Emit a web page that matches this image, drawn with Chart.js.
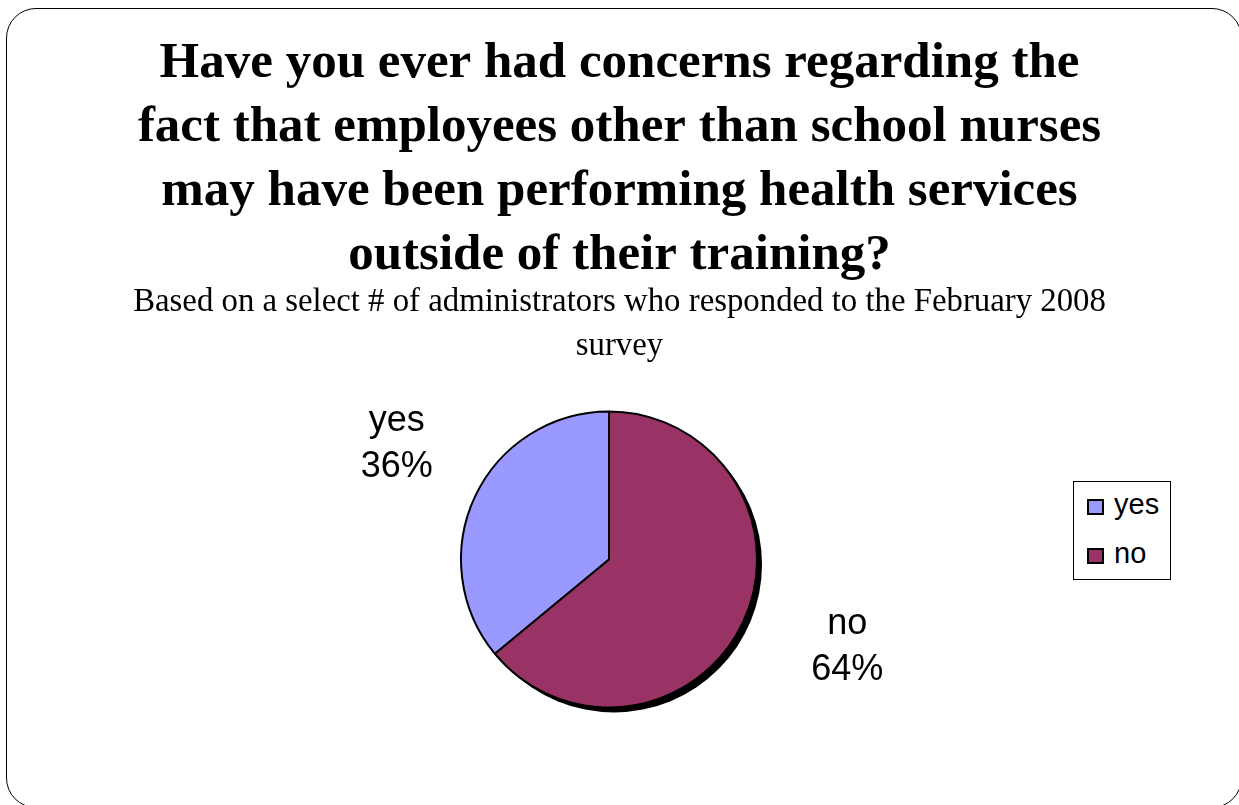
<!DOCTYPE html>
<html>
<head>
<meta charset="utf-8">
<script src="https://cdn.jsdelivr.net/npm/chart.js@4.4.1/dist/chart.umd.min.js"></script>
<style>
  html, body { margin: 0; padding: 0; background: #fff; overflow: hidden; }
  #wrap { position: relative; width: 1239px; height: 805px; }
  #frame {
    position: absolute; left: 6px; top: 8px; width: 1236px; height: 800px;
    border: 1.5px solid #000; border-radius: 30px; box-sizing: border-box;
  }
  #legend {
    position: absolute; left: 1073px; top: 481px; width: 98px; height: 99px;
    border: 1px solid #000; box-sizing: border-box; background: #fff;
    font-family: "Liberation Sans", Arial, sans-serif; font-size: 29px;
  }
  #legend .item { position: absolute; left: 13px; height: 30px; line-height: 30px; }
  #legend .sw {
    display: inline-block; width: 17px; height: 16px; border: 2px solid #000;
    box-sizing: border-box; margin-right: 10px; vertical-align: -1px;
  }
</style>
</head>
<body>
<div id="wrap">
  <canvas id="myChart" width="1239" height="805"></canvas>
  <div id="frame"></div>
  <div id="legend"></div>
</div>
<script>
// 데이터
var labels = ['yes', 'no'];
var values = [36, 64];
var colors = ['#9999FF', '#993366'];

var titleLines = [
    'Have you ever had concerns regarding the',
    'fact that employees other than school nurses',
    'may have been performing health services',
    'outside of their training?'
];
var subtitleLines = [
    'Based on a select # of administrators who responded to the February 2008',
    'survey'
];

// 범례 (html)
var legendEl = document.getElementById('legend');
for (var i = 0; i < labels.length; i++) {
    var item = document.createElement('div');
    item.className = 'item';
    item.style.top = (7 + i * 49) + 'px';
    item.innerHTML = '<span class="sw" style="background:' + colors[i] + '"></span>' + labels[i];
    legendEl.appendChild(item);
}

// 라벨 위치 미세조정 (yes, no)
var labelNudge = [[5, -13], [21, -15]];

// 제목은 캔버스 전체 폭 기준으로 가운데 정렬
var fullWidthTitles = {
    id: 'fullWidthTitles',
    afterLayout: function(chart) {
        chart.boxes.forEach(function(b) {
            if (b.options && b.options.position === 'top') {
                b.left = 0;
                b.right = chart.width;
                b.width = chart.width;
            }
        });
    }
};

// 그림자 + 라벨
var pieExtras = {
    id: 'pieExtras',
    beforeDatasetsDraw: function(chart) {
        var arc = chart.getDatasetMeta(0).data[0];
        var c = chart.ctx;
        c.save();
        c.fillStyle = '#000';
        c.beginPath();
        c.arc(arc.x + 5, arc.y + 5, arc.outerRadius, 0, Math.PI * 2);
        c.fill();
        c.restore();
    },
    afterDatasetsDraw: function(chart) {
        var meta = chart.getDatasetMeta(0);
        var c = chart.ctx;
        c.save();
        c.fillStyle = '#000';
        c.font = '36px "Liberation Sans", Arial, sans-serif';
        c.textAlign = 'center';
        c.textBaseline = 'middle';
        meta.data.forEach(function(arc, i) {
            var mid = (arc.startAngle + arc.endAngle) / 2;
            var d = arc.outerRadius + 92;
            var x = arc.x + Math.cos(mid) * d + labelNudge[i][0];
            var y = arc.y + Math.sin(mid) * d + labelNudge[i][1];
            c.fillText(labels[i], x, y - 23);
            c.fillText(values[i] + '%', x, y + 23);
        });
        c.restore();
    }
};

var ctx = document.getElementById('myChart').getContext('2d');
var myChart = new Chart(ctx, {
    type: 'pie',
    data: {
        labels: labels,
        datasets: [{
            data: values,
            backgroundColor: colors,
            borderColor: '#000',
            borderWidth: 2,
            radius: 148
        }]
    },
    options: {
        responsive: false,
        animation: false,
        rotation: -values[0] / 100 * 360,
        layout: { padding: { left: 0, right: 21, bottom: 54 } },
        plugins: {
            legend: { display: false },
            tooltip: { enabled: false },
            title: {
                display: true,
                text: titleLines,
                color: '#000',
                font: { family: '"Liberation Serif", "Times New Roman", serif', size: 51, weight: 'bold', lineHeight: 1.255 },
                padding: { top: 32, bottom: 0 }
            },
            subtitle: {
                display: true,
                text: subtitleLines,
                color: '#000',
                font: { family: '"Liberation Serif", "Times New Roman", serif', size: 32.8, lineHeight: 1.34 },
                padding: { top: -8, bottom: 0 }
            }
        }
    },
    plugins: [fullWidthTitles, pieExtras]
});
</script>
</body>
</html>
